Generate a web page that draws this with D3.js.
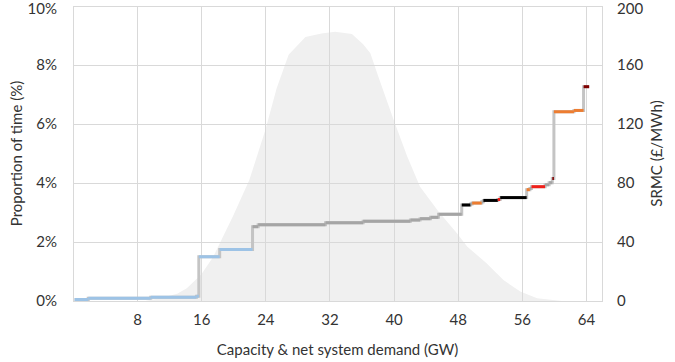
<!DOCTYPE html>
<html>
<head>
<meta charset="utf-8">
<script src="https://cdn.jsdelivr.net/npm/d3@7"></script>
<style>
  body { margin: 0; background: #fff; }
  svg text { font-family: Lato, "Open Sans", sans-serif; fill: #333; }
</style>
</head>
<body>
<div id="chart"></div>
<script>
// demand distribution (GW, share of time)
const demandGW  = [0, 9, 11, 13, 14.2, 16, 17.5, 20, 22, 24, 25.4, 26.9, 29, 31, 32.7, 34.8, 36.2, 37.1, 38.1, 40, 41.7, 43.3, 45.6, 47.9, 49.2, 51.6, 53.7, 55.8, 57.9, 61, 66];
const demandPct = [0, 0, 0.001, 0.0025, 0.0043, 0.009, 0.015, 0.029, 0.041, 0.058, 0.072, 0.0835, 0.0895, 0.0907, 0.0913, 0.0905, 0.087, 0.084, 0.076, 0.0614, 0.049, 0.0387, 0.0303, 0.023, 0.0184, 0.0128, 0.0071, 0.0032, 0.0009, 0, 0];

// merit order: each block from stepStart to stepEnd (GW) at SRMC (£/MWh)
const stepStart = [0.2, 1.9, 9.7, 15.4, 15.7, 18.3, 22.4, 23.1, 31.5, 36.2, 42.1, 43.3, 44.6, 45.6, 48.5, 49.6, 49.8, 51.0, 51.2, 53.0, 53.3, 56.6, 57.0, 57.2, 58.9, 59.4, 59.8, 60.0, 62.5, 63.7];
const stepEnd   = [1.9, 9.7, 15.4, 15.7, 18.3, 22.4, 23.1, 31.5, 36.2, 42.1, 43.3, 44.6, 45.6, 48.5, 49.6, 49.8, 51.0, 51.2, 53.0, 53.3, 56.6, 57.0, 57.2, 58.9, 59.4, 59.8, 60.0, 62.5, 63.7, 64.4];
const stepSRMC  = [1.0, 1.8, 2.6, 3.2, 30, 35, 50.4, 51.7, 53.1, 54.0, 54.9, 55.8, 56.7, 58.8, 65.1, 65.8, 66.4, 67.3, 68.2, 68.8, 70.1, 75.5, 76.3, 77.5, 78.8, 80.2, 83, 128.3, 129.2, 145.3];
const stepFuel  = ["low", "low", "low", "low", "low", "low", "ccgt", "ccgt", "ccgt", "ccgt", "ccgt", "ccgt", "ccgt", "ccgt", "coal", "ccgt", "ocgt", "ccgt", "coal", "oil", "coal", "ocgt", "ccgt", "oil", "ccgt", "ccgt", "peak", "ocgt", "ocgt", "peak"];

const fuelColour = { low: "#9dc3e6", ccgt: "#a5a5a5", coal: "#000000", ocgt: "#ed7d31", oil: "#f0201a", peak: "#7f0000" };

const xTicks = [8, 16, 24, 32, 40, 48, 56, 64];
const leftTicks = [0, 0.02, 0.04, 0.06, 0.08, 0.10];
const rightTicks = [0, 40, 80, 120, 160, 200];

const width = 675, height = 362;
const plotL = 73, plotR = 602, plotT = 6, plotB = 301;
const fontSize = "15px";

const svg = d3.select("#chart").append("svg")
    .attr("width", width)
    .attr("height", height);

const x = d3.scaleLinear().domain([0, 66]).range([plotL, plotR]);
const yL = d3.scaleLinear().domain([0, 0.10]).range([plotB, plotT]);
const yR = d3.scaleLinear().domain([0, 200]).range([plotB, plotT]);

// demand area first, grid sits on top of it
const area = d3.area()
    .x((d, i) => x(demandGW[i]))
    .y0(plotB)
    .y1(d => yL(d));
svg.append("path")
    .attr("d", area(demandPct))
    .attr("fill", "#f0f0f0");

// grid + axes
const gx = svg.append("g")
    .attr("transform", `translate(0,${plotB})`)
    .call(d3.axisBottom(x).tickValues(xTicks).tickSizeInner(-(plotB - plotT)).tickSizeOuter(0).tickPadding(13));
const gl = svg.append("g")
    .attr("transform", `translate(${plotL},0)`)
    .call(d3.axisLeft(yL).tickValues(leftTicks).tickFormat(d3.format(".0%")).tickSizeInner(-(plotR - plotL)).tickSizeOuter(0).tickPadding(16));
const gr = svg.append("g")
    .attr("transform", `translate(${plotR},0)`)
    .call(d3.axisRight(yR).tickValues(rightTicks).tickSize(0).tickPadding(15));

[gx, gl, gr].forEach(g => {
    g.select(".domain").remove();
    g.selectAll(".tick line").attr("stroke", "#d9d9d9").attr("shape-rendering", "crispEdges");
    g.selectAll(".tick text").style("font-size", fontSize).attr("fill", "#333");
});
// nudge the top labels so they stay inside the picture
gl.selectAll(".tick text").filter(d => d === 0.10).attr("dy", "0.5em");
gr.selectAll(".tick text").filter(d => d === 200).attr("dy", "0.5em");

svg.append("rect")
    .attr("x", plotL).attr("y", plotT)
    .attr("width", plotR - plotL).attr("height", plotB - plotT)
    .attr("fill", "none").attr("stroke", "#d9d9d9")
    .attr("shape-rendering", "crispEdges");

// step line: light grey connectors, then coloured blocks on top
const stepPts = [];
stepStart.forEach((s, i) => {
    stepPts.push([stepStart[i], stepSRMC[i]]);
    stepPts.push([stepEnd[i], stepSRMC[i]]);
});
const line = d3.line()
    .x(d => x(d[0]))
    .y(d => yR(d[1]));
svg.append("path")
    .attr("d", line(stepPts))
    .attr("fill", "none")
    .attr("stroke", "#c4c4c4")
    .attr("stroke-width", 3);

svg.append("g").selectAll("line")
    .data(stepStart)
    .join("line")
    .attr("x1", (d, i) => x(stepStart[i]))
    .attr("x2", (d, i) => x(stepEnd[i]))
    .attr("y1", (d, i) => yR(stepSRMC[i]))
    .attr("y2", (d, i) => yR(stepSRMC[i]))
    .attr("stroke", (d, i) => fuelColour[stepFuel[i]])
    .attr("stroke-width", 3);

// axis titles
svg.append("text")
    .attr("x", (plotL + plotR) / 2)
    .attr("y", 355)
    .attr("text-anchor", "middle")
    .style("font-size", fontSize)
    .text("Capacity & net system demand (GW)");

svg.append("text")
    .attr("transform", `translate(22,${(plotT + plotB) / 2}) rotate(-90)`)
    .attr("text-anchor", "middle")
    .style("font-size", fontSize)
    .text("Proportion of time (%)");

svg.append("text")
    .attr("transform", `translate(662,${(plotT + plotB) / 2}) rotate(-90)`)
    .attr("text-anchor", "middle")
    .style("font-size", fontSize)
    .text("SRMC (£/MWh)");
</script>
</body>
</html>
